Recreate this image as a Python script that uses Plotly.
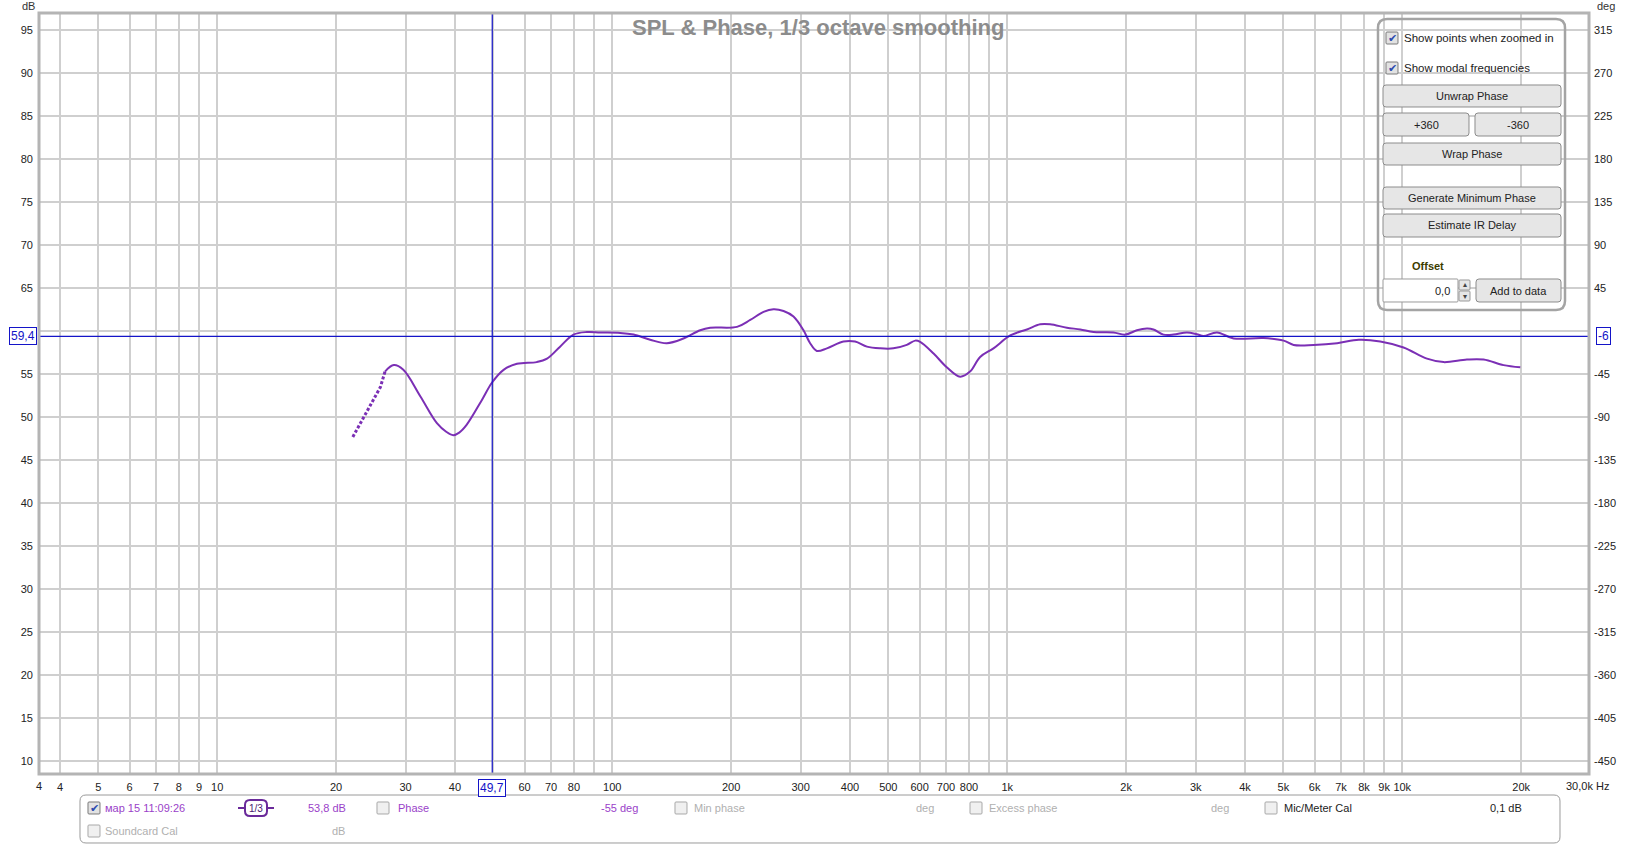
import math
import plotly.graph_objects as go

# ---------------- data ----------------
freq_hz = [26.6, 28.0, 29.6, 32.7, 36.0, 38.0, 39.6, 41.0, 42.8, 46.8, 49.6, 53.1, 57.4, 64.4,
           68.4, 73.8, 79.8, 86.3, 93.3, 104.8, 113.3, 124.8, 137.5, 151.5, 167, 177, 207,
           223.6, 241.6, 256, 271.5, 287.7, 305, 317, 329.6, 349.6, 385, 412, 441.5, 477, 515,
           557, 585, 602, 651, 703, 760, 805, 854, 923, 1018, 1122, 1212, 1284, 1416, 1531,
           1654, 1858, 1990, 2130, 2258, 2345, 2487, 2637, 2850, 3020, 3141, 3396, 3742, 4457,
           5008, 5308, 5965, 6842, 7763, 8798, 10075, 11550, 12725, 14580, 16070, 18050, 19900]
spl_db = [55.3, 56.05, 55.5, 52.4, 49.3, 48.3, 47.9, 48.2, 49.1, 52.0, 54.0, 55.5, 56.2, 56.4,
          56.8, 58.2, 59.6, 59.9, 59.85, 59.8, 59.6, 59.0, 58.6, 59.15, 60.1, 60.4, 60.5,
          61.3, 62.25, 62.55, 62.35, 61.7, 60.1, 58.6, 57.7, 58.0, 58.8, 58.8, 58.2, 58.0, 58.0,
          58.4, 58.9, 58.75, 57.4, 55.8, 54.7, 55.3, 57.0, 58.0, 59.5, 60.2, 60.8, 60.8, 60.4,
          60.2, 59.9, 59.85, 59.6, 60.1, 60.3, 60.2, 59.6, 59.6, 59.85, 59.65, 59.45, 59.85,
          59.15, 59.2, 58.9, 58.4, 58.4, 58.6, 59.0, 58.8, 58.1, 56.8, 56.4, 56.7, 56.7, 56.05,
          55.8]

# sparse low-frequency points (drawn dotted)
freq_lf_hz = [22.05, 23.9, 25.9, 26.6]
spl_lf_db = [47.7, 50.6, 53.5, 55.3]

CURSOR_HZ = 49.7
CURSOR_DB = 59.4
X_MIN_HZ, X_MAX_HZ = 3.54, 29700
Y_MIN_DB, Y_MAX_DB = 8.5, 97.0
DEG_REF_DB, DEG_REF = 95.0, 315.0   # 95 dB <-> 315 deg
DEG_PER_DB = 9.0

grid_hz = [4, 5, 6, 7, 8, 9, 10, 20, 30, 40, 50, 60, 70, 80, 90, 100, 200, 300, 400, 500,
           600, 700, 800, 900, 1000, 2000, 3000, 4000, 5000, 6000, 7000, 8000, 9000, 10000, 20000]
grid_labels = ["4", "5", "6", "7", "8", "9", "10", "20", "30", "40", "", "60", "70", "80", "",
               "100", "200", "300", "400", "500", "600", "700", "800", "", "1k", "2k", "3k",
               "4k", "5k", "6k", "7k", "8k", "9k", "10k", "20k"]
db_ticks = list(range(10, 100, 5))
db_labels = ["" if v == 60 else str(v) for v in db_ticks]      # hidden under the cursor box
deg_ticks = list(range(-450, 316, 45))
deg_labels = ["" if v == 0 else str(v) for v in deg_ticks]

TITLE = "SPL & Phase, 1/3 octave smoothing"

# ---------------- layout helpers ----------------
W, H = 1639, 846
L, R, T, B = 39, 1589, 13, 774
FONT = "Liberation Sans"
LINE_COL = "#7b2fb5"
LEG_PURPLE = "#9a3fc9"
BLUE = "#1414c8"


def px(x):
    return (x - L) / (R - L)


def py(y):
    return (B - y) / (B - T)


def rrect(x0, y0, x1, y1, r):
    pts = [("M", x0 + r, y0), ("L", x1 - r, y0), ("Q", x1, y0, x1, y0 + r), ("L", x1, y1 - r),
           ("Q", x1, y1, x1 - r, y1), ("L", x0 + r, y1), ("Q", x0, y1, x0, y1 - r),
           ("L", x0, y0 + r), ("Q", x0, y0, x0 + r, y0)]
    s = ""
    for p in pts:
        if p[0] == "Q":
            s += f"Q{px(p[1]):.5f},{py(p[2]):.5f} {px(p[3]):.5f},{py(p[4]):.5f} "
        else:
            s += f"{p[0]}{px(p[1]):.5f},{py(p[2]):.5f} "
    return s + "Z"


shapes = []
annos = []


def box(x0, y0, x1, y1, r=3, line="#8c8c8c", fill="#e6e6e6", w=1):
    shapes.append(dict(type="path", xref="paper", yref="paper", path=rrect(x0, y0, x1, y1, r),
                       line=dict(color=line, width=w), fillcolor=fill, layer="above"))


def text(x, y, s, color="#222", size=11, anchor="left", bold=False, family=FONT):
    if bold:
        s = f"<b>{s}</b>"
    annos.append(dict(xref="paper", yref="paper", x=px(x), y=py(y), text=s, showarrow=False,
                      xanchor=anchor, yanchor="middle",
                      font=dict(family=family, size=size, color=color)))


def checkbox(x, y, checked=False, grey=False):
    box(x - 6, y - 6, x + 6, y + 6, r=1, line="#a8a8a8" if grey else "#7a7a7a",
        fill="#f0f0f0" if grey else "#e2e2e2")
    if checked:
        text(x, y, "✔", color="#2b4bb0", size=11, anchor="center", family="DejaVu Sans")


fig = go.Figure()

# curve
fig.add_trace(go.Scatter(x=freq_lf_hz, y=spl_lf_db, mode="lines",
                         line=dict(color=LINE_COL, width=3, dash="3px,2px"),
                         hoverinfo="skip", showlegend=False))
fig.add_trace(go.Scatter(x=freq_hz, y=spl_db, mode="lines",
                         line=dict(color=LINE_COL, width=2, shape="spline", smoothing=1.0),
                         showlegend=False))
# cursors
fig.add_trace(go.Scatter(x=[CURSOR_HZ, CURSOR_HZ], y=[Y_MIN_DB, Y_MAX_DB], mode="lines",
                         line=dict(color=BLUE, width=1.2), hoverinfo="skip", showlegend=False))
fig.add_trace(go.Scatter(x=[X_MIN_HZ, X_MAX_HZ], y=[CURSOR_DB, CURSOR_DB], mode="lines",
                         line=dict(color=BLUE, width=1.2), hoverinfo="skip", showlegend=False))
# invisible trace for the phase axis
deg_lo = DEG_REF + (Y_MIN_DB - DEG_REF_DB) * DEG_PER_DB
deg_hi = DEG_REF + (Y_MAX_DB - DEG_REF_DB) * DEG_PER_DB
fig.add_trace(go.Scatter(x=[X_MIN_HZ], y=[deg_lo], yaxis="y2", mode="markers",
                         marker=dict(opacity=0), hoverinfo="skip", showlegend=False))

# plot border
shapes.append(dict(type="rect", xref="paper", yref="paper", x0=0, y0=0, x1=1, y1=1,
                   line=dict(color="#b4b4b4", width=3), layer="above"))

# title
text(818, 27, TITLE, color="#8c8c8c", size=22, anchor="center", bold=True)
# axis unit labels
text(28, 6, "dB", color="#333", size=11, anchor="center")
text(1606, 6, "deg", color="#333", size=11, anchor="center")
# x-axis edge labels
text(39, 786, "4", color="#222", size=11, anchor="center")
text(1564, 786, "30,0k Hz", color="#222", size=11, anchor="left")

# cursor labels
annos.append(dict(xref="x", yref="paper", x=math.log10(CURSOR_HZ), y=py(788),
                  text="49,7", showarrow=False, xanchor="center", yanchor="middle",
                  font=dict(family=FONT, size=12, color=BLUE), bgcolor="white",
                  bordercolor=BLUE, borderwidth=1, borderpad=1))
annos.append(dict(xref="paper", yref="y", x=px(23), y=CURSOR_DB,
                  text="59,4", showarrow=False, xanchor="center", yanchor="middle",
                  font=dict(family=FONT, size=12, color=BLUE), bgcolor="white",
                  bordercolor=BLUE, borderwidth=1, borderpad=1))
annos.append(dict(xref="paper", yref="y", x=px(1603), y=CURSOR_DB,
                  text="-6", showarrow=False, xanchor="center", yanchor="middle",
                  font=dict(family=FONT, size=12, color=BLUE), bgcolor="white",
                  bordercolor=BLUE, borderwidth=1, borderpad=1))

# ---------------- control panel ----------------
box(1378, 19, 1565, 310, r=9, line="#a4a4a4", fill="rgba(255,255,255,0)", w=2.5)
checkbox(1392, 38, checked=True)
text(1402, 38, "Show points when zoomed in", size=11.5)
checkbox(1392, 68, checked=True)
text(1402, 68, "Show modal frequencies", size=11.5)
for (x0, y0, x1, y1, lab) in [(1383, 85, 1561, 107, "Unwrap Phase"),
                              (1383, 113, 1469, 136, "+360"),
                              (1475, 113, 1561, 136, "-360"),
                              (1383, 143, 1561, 165, "Wrap Phase"),
                              (1383, 187, 1561, 209, "Generate Minimum Phase"),
                              (1383, 214, 1561, 237, "Estimate IR Delay"),
                              (1476, 279, 1561, 302, "Add to data")]:
    box(x0, y0, x1, y1, r=3)
    text((x0 + x1) / 2, (y0 + y1) / 2, lab, size=11, anchor="center")
text(1410, 266, "<b>Offset</b>", color="#3c3c00", size=11)
box(1383, 279, 1458, 302, r=1, line="#9a9a9a", fill="white")
text(1452, 291, "0,0", size=11, anchor="right")
box(1459, 280, 1470, 290, r=1, line="#9a9a9a", fill="#e6e6e6")
box(1459, 291, 1470, 301, r=1, line="#9a9a9a", fill="#e6e6e6")
text(1464.5, 285, "▴", size=8, anchor="center", color="#444", family="DejaVu Sans")
text(1464.5, 296, "▾", size=8, anchor="center", color="#444", family="DejaVu Sans")

# ---------------- bottom legend bar ----------------
box(80, 795, 1560, 843, r=6, line="#9a9a9a", fill="rgba(255,255,255,0)", w=1)
checkbox(94, 808, checked=True)
text(103, 808, "мар 15 11:09:26", color=LEG_PURPLE, size=11)
shapes.append(dict(type="line", xref="paper", yref="paper", x0=px(238), x1=px(274),
                   y0=py(808), y1=py(808), line=dict(color="#6a2a9a", width=2), layer="above"))
box(245, 800, 267, 816, r=5, line="#6a2a9a", fill="white", w=2)
text(256, 808, "1/3", color="#4a1a70", size=10, anchor="center")
text(306, 808, "53,8 dB", color=LEG_PURPLE, size=11)
checkbox(383, 808, grey=True)
text(396, 808, "Phase", color=LEG_PURPLE, size=11)
text(599, 808, "-55 deg", color=LEG_PURPLE, size=11)
checkbox(681, 808, grey=True)
text(692, 808, "Min phase", color="#b0b0b0", size=11)
text(914, 808, "deg", color="#b0b0b0", size=11)
checkbox(976, 808, grey=True)
text(987, 808, "Excess phase", color="#b0b0b0", size=11)
text(1209, 808, "deg", color="#b0b0b0", size=11)
checkbox(1271, 808, grey=True)
text(1282, 808, "Mic/Meter Cal", color="#222", size=11)
text(1488, 808, "0,1 dB", color="#222", size=11)
checkbox(94, 831, grey=True)
text(103, 831, "Soundcard Cal", color="#b0b0b0", size=11)
text(330, 831, "dB", color="#b0b0b0", size=11)

fig.update_layout(
    width=W, height=H,
    margin=dict(l=L, r=W - R, t=T, b=H - B, pad=0),
    paper_bgcolor="white", plot_bgcolor="white",
    font=dict(family=FONT, size=11, color="#222"),
    showlegend=False,
    xaxis=dict(type="log", range=[math.log10(X_MIN_HZ), math.log10(X_MAX_HZ)],
               tickmode="array", tickvals=grid_hz, ticktext=grid_labels,
               showgrid=True, gridcolor="#cfcfcf", gridwidth=1.5, zeroline=False,
               showline=False, ticks="", ticklabelstandoff=5,
               tickfont=dict(family=FONT, size=11, color="#222")),
    yaxis=dict(range=[Y_MIN_DB, Y_MAX_DB], tickmode="array", tickvals=db_ticks,
               ticktext=db_labels,
               showgrid=True, gridcolor="#cfcfcf", gridwidth=1.5, zeroline=False,
               showline=False, ticks="", ticklabelstandoff=5,
               tickfont=dict(family=FONT, size=11, color="#222")),
    yaxis2=dict(range=[deg_lo, deg_hi], overlaying="y", side="right", tickmode="array",
                tickvals=deg_ticks, ticktext=deg_labels, showgrid=False, zeroline=False,
                showline=False, ticks="", ticklabelstandoff=4,
                tickfont=dict(family=FONT, size=11, color="#222")),
    shapes=shapes, annotations=annos,
)

fig.write_html("out.html", config={"displayModeBar": False},
               post_script="document.body.style.margin='0';document.body.style.overflow='hidden';")
